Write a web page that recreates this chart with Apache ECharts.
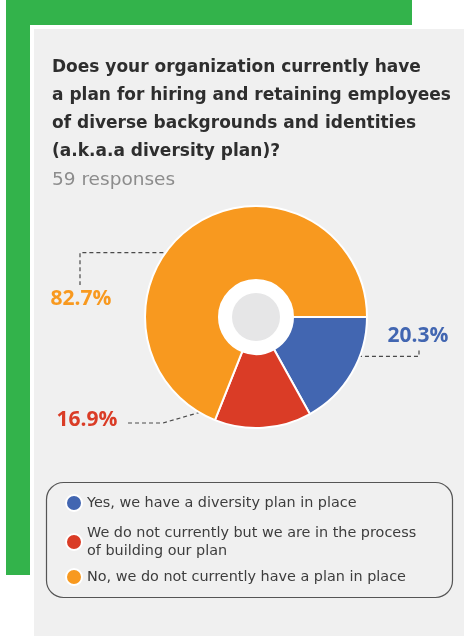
<!DOCTYPE html>
<html>
<head>
<meta charset="utf-8">
<style>
  html, body { margin: 0; padding: 0; background: #ffffff; }
  #chart { width: 464px; height: 636px; }
</style>
<script src="https://cdn.jsdelivr.net/npm/echarts@6/dist/echarts.min.js"></script>
</head>
<body>
<div id="chart"></div>
<script>
// Survey answers and the percentage shown for each slice
const categories = [
  'Yes, we have a diversity plan in place',
  'We do not currently but we are in the process\nof building our plan',
  'No, we do not currently have a plan in place'
];
const percentages = [20.3, 16.9, 82.7];
const sliceColors = ['#4266b1', '#da3c26', '#f8991f'];

const titleText = 'Does your organization currently have\na plan for hiring and retaining employees\nof diverse backgrounds and identities\n(a.k.a.a diversity plan)?';
const subText = '59 responses';

const TEXT_FONT = '"DejaVu Sans", "Open Sans", sans-serif';
const LABEL_FONT = '"Open Sans", "Liberation Sans", sans-serif';
const CENTER = [256, 317];
const RADIUS = [37, 111];

// Where each percentage label sits and where its leader line bends
const labelSpots = [
  { x: 418, y: 336, bendX: 419, endY: 348, mode: 'up' },
  { x: 87, y: 420, bendX: 163, endX: 125, mode: 'side' },
  { x: 81, y: 299, bendX: 80, endY: 285, mode: 'down' }
];

const chart = echarts.init(document.getElementById('chart'), null, { renderer: 'canvas' });

const legendTops = [494, 524, 568];

const option = {
  animation: false,
  title: {
    text: titleText,
    subtext: subText,
    left: 52,
    top: 54,
    padding: 0,
    itemGap: 3,
    textStyle: {
      fontFamily: TEXT_FONT,
      fontWeight: 'bold',
      fontSize: 17,
      lineHeight: 28,
      color: '#2e2e2e'
    },
    subtextStyle: {
      fontFamily: TEXT_FONT,
      fontSize: 18.5,
      lineHeight: 22,
      color: '#8c8c8c'
    }
  },
  graphic: [
    { type: 'rect', z: -10, shape: { x: 6, y: 0, width: 406, height: 575 }, style: { fill: '#33b34b' } },
    { type: 'rect', z: -9, shape: { x: 30, y: 25, width: 434, height: 611 }, style: { fill: '#ffffff' } },
    { type: 'rect', z: -8, shape: { x: 34, y: 29, width: 430, height: 607 }, style: { fill: '#f0f0f0' } },
    { type: 'rect', z: -7, shape: { x: 46.5, y: 482.5, width: 406, height: 115, r: 17 },
      style: { fill: 'none', stroke: '#555555', lineWidth: 1.2 } },
    { type: 'circle', z: 50, shape: { cx: CENTER[0], cy: CENTER[1], r: RADIUS[0] }, style: { fill: '#ffffff' } },
    { type: 'circle', z: 51, shape: { cx: CENTER[0], cy: CENTER[1], r: 24 }, style: { fill: '#e6e6e7' } }
  ],
  legend: categories.map((name, i) => ({
    data: [name],
    orient: 'vertical',
    left: 65,
    top: legendTops[i],
    padding: 0,
    icon: 'circle',
    itemWidth: 16,
    itemHeight: 16,
    itemGap: 0,
    textStyle: {
      fontFamily: TEXT_FONT,
      fontSize: 14.4,
      lineHeight: 18,
      color: '#3d3d3d'
    }
  })),
  series: [{
    type: 'pie',
    center: CENTER,
    radius: RADIUS,
    startAngle: 0,
    clockwise: true,
    avoidLabelOverlap: false,
    itemStyle: { borderColor: '#ffffff', borderWidth: 2 },
    label: {
      show: true,
      position: 'outside',
      formatter: '{c}%',
      fontFamily: LABEL_FONT,
      fontWeight: 'bold',
      fontSize: 21
    },
    labelLine: {
      show: true,
      length: 10,
      length2: 10,
      lineStyle: { color: '#4a4a4a', width: 1.2, type: [4, 3] }
    },
    labelLayout: function (params) {
      const spot = labelSpots[params.dataIndex];
      const edge = params.labelLinePoints ? params.labelLinePoints[0] : CENTER;
      // start the leader line inside the slice, along its middle direction
      const k = 0.7;
      const p0 = [CENTER[0] + (edge[0] - CENTER[0]) * k, CENTER[1] + (edge[1] - CENTER[1]) * k];
      let pts;
      if (spot.mode === 'side') {
        pts = [p0, [spot.bendX, spot.y + 3], [spot.endX, spot.y + 3]];
      } else {
        pts = [p0, [spot.bendX, p0[1]], [spot.bendX, spot.endY]];
      }
      return {
        x: spot.x,
        y: spot.y,
        align: 'center',
        verticalAlign: 'middle',
        labelLinePoints: pts
      };
    },
    data: categories.map((name, i) => ({
      name: name,
      value: percentages[i],
      itemStyle: { color: sliceColors[i] },
      label: { color: sliceColors[i] }
    }))
  }]
};

chart.setOption(option);
</script>
</body>
</html>
